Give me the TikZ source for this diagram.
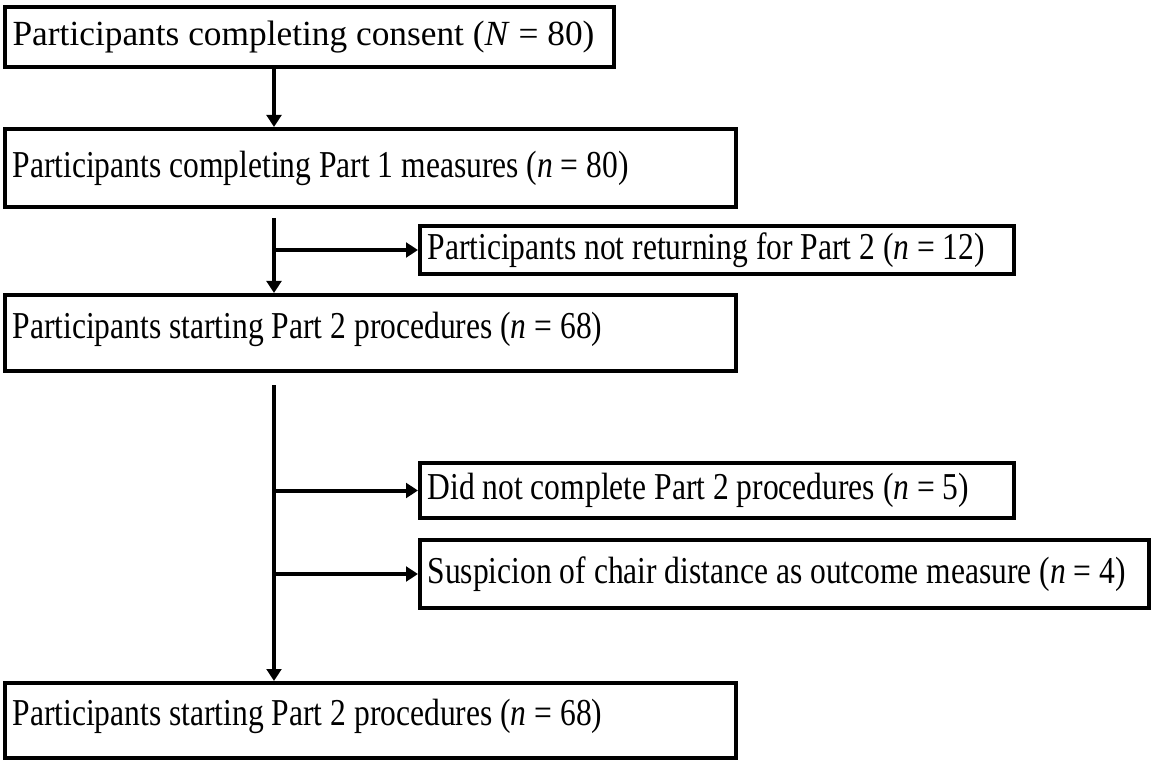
\documentclass[tikz,border=0pt]{standalone}
\usepackage{fontspec}
\setmainfont{Liberation Serif}
\newfontfamily\boxfont[FakeStretch=0.83]{Liberation Serif}
\usetikzlibrary{arrows.meta}
\tikzset{
  flowbox/.style={draw, line width=3pt, rectangle, anchor=north west, inner sep=0pt},
  boxtext/.style={anchor=west, inner sep=0pt, font=\boxfont\fontsize{28.5}{32}\selectfont},
  flowarrow/.style={line width=3pt, -{Triangle[length=9pt,width=11pt]}}
}
\begin{document}
\begin{tikzpicture}[x=0.75pt,y=-0.75pt]
  \newcommand{\nCount}[2]{(\textit{#1}~=~#2)}
  \useasboundingbox (0,0) rectangle (1151,766);

  % main column
  \node[flowbox, minimum width=609*0.75pt, minimum height=60*0.75pt] (consent) at (3,5) {};
  \node[boxtext, font=\fontsize{26.5}{30}\selectfont] at ([xshift=7pt]consent.west) {Participants completing consent \nCount{N}{80}};

  \node[flowbox, minimum width=731*0.75pt, minimum height=78*0.75pt] (part1) at (3,127) {};
  \node[boxtext] at ([xshift=7pt]part1.west) {Participants completing Part 1 measures \nCount{n}{80}};

  \node[flowbox, minimum width=731*0.75pt, minimum height=76*0.75pt] (start2) at (3,293) {};
  \node[boxtext] at ([xshift=7pt,yshift=3pt]start2.west) {Participants starting Part 2 procedures \nCount{n}{68}};

  \node[flowbox, minimum width=731*0.75pt, minimum height=75*0.75pt] (final) at (3,681) {};
  \node[boxtext] at ([xshift=7pt,yshift=3pt]final.west) {Participants starting Part 2 procedures \nCount{n}{68}};

  % side boxes
  \node[flowbox, minimum width=594*0.75pt, minimum height=48*0.75pt] (noreturn) at (418,224) {};
  \node[boxtext] at ([xshift=7pt]noreturn.west) {Participants not returning for Part 2 \nCount{n}{12}};

  \node[flowbox, minimum width=594*0.75pt, minimum height=55*0.75pt] (incomplete) at (418,461) {};
  \node[boxtext] at ([xshift=7pt]incomplete.west) {Did not complete Part 2 procedures \nCount{n}{5}};

  \node[flowbox, minimum width=729*0.75pt, minimum height=68*0.75pt] (suspicion) at (418,538) {};
  \node[boxtext] at ([xshift=7pt]suspicion.west) {Suspicion of chair distance as outcome measure \nCount{n}{4}};

  % connectors
  \coordinate (c1) at (274,68);
  \coordinate (c2) at (274,218);
  \coordinate (c3) at (274,385);
  \draw[flowarrow] (c1) -- (c1 |- part1.north);
  \draw[flowarrow] (c2) -- (c2 |- start2.north);
  \draw[flowarrow] (c2 |- noreturn.west) -- (noreturn.west);
  \draw[flowarrow] (c3) -- (c3 |- final.north);
  \draw[flowarrow] (c3 |- incomplete.west) -- (incomplete.west);
  \draw[flowarrow] (c3 |- suspicion.west) -- (suspicion.west);
\end{tikzpicture}
\end{document}
